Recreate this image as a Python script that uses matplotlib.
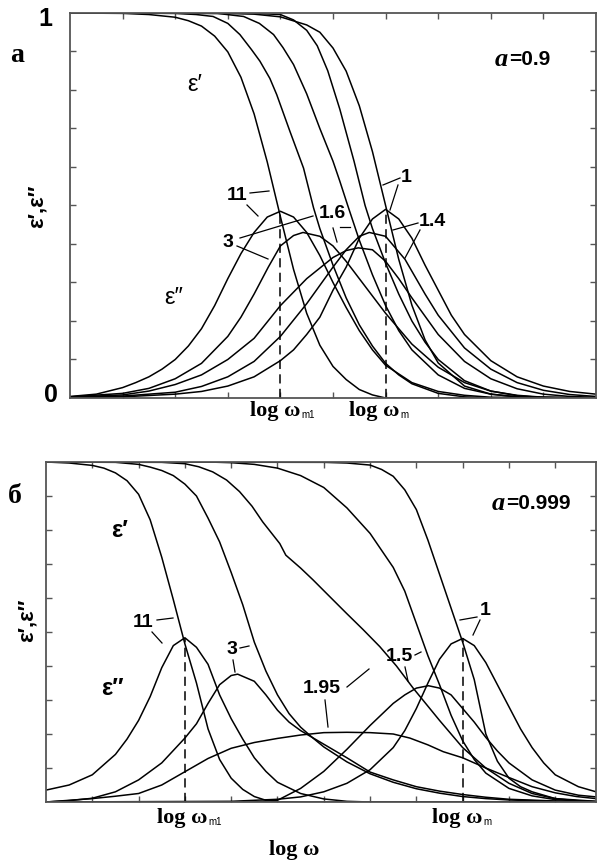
import matplotlib.pyplot as plt

# ---------------- panel a (a = 0.9) ----------------
# eps' curves
a_e11_x = [0, 1, 1.5, 2, 2.25, 2.5, 2.75, 3, 3.25, 3.5, 3.75, 4, 4.25, 4.5, 4.75, 5, 5.25, 5.5, 5.75, 6, 10]
a_e11_y = [1, 0.999, 0.996, 0.989, 0.98, 0.966, 0.94, 0.899, 0.833, 0.738, 0.613, 0.471, 0.334, 0.22, 0.137,
           0.082, 0.048, 0.022, 0.008, 0, 0]
a_e3_x = [0, 2, 2.4, 2.72, 3, 3.23, 3.45, 3.61, 3.8, 3.93, 4.18, 4.44, 4.63, 4.75, 5, 5.25, 5.5, 5.75, 6, 6.25,
          6.5, 7, 7.5, 8, 10]
a_e3_y = [1, 0.999, 0.996, 0.991, 0.973, 0.944, 0.905, 0.875, 0.83, 0.788, 0.693, 0.597, 0.494, 0.44, 0.345,
          0.26, 0.19, 0.135, 0.09, 0.06, 0.037, 0.012, 0.003, 0, 0]
a_e16_x = [0, 2.8, 3.3, 3.6, 3.87, 4.05, 4.25, 4.5, 4.75, 5, 5.13, 5.28, 5.5, 5.75, 6, 6.25, 6.5, 7, 7.5, 8,
           8.5, 10]
a_e16_y = [1, 0.999, 0.991, 0.973, 0.944, 0.91, 0.866, 0.79, 0.7, 0.615, 0.563, 0.5, 0.41, 0.32, 0.24, 0.175,
           0.125, 0.06, 0.025, 0.01, 0.003, 0]
a_e14_x = [0, 3.5, 4.0, 4.25, 4.5, 4.7, 4.9, 5.13, 5.4, 5.61, 5.75, 6, 6.25, 6.5, 6.75, 7, 7.5, 8, 8.5, 9, 10]
a_e14_y = [1, 0.999, 0.996, 0.982, 0.955, 0.915, 0.85, 0.75, 0.615, 0.5, 0.44, 0.35, 0.27, 0.2, 0.145, 0.1,
           0.045, 0.018, 0.006, 0.001, 0]
a_e1_x = [0, 3, 3.5, 4, 4.5, 4.75, 5, 5.25, 5.5, 5.75, 6, 6.25, 6.5, 6.75, 7, 7.5, 8, 8.5, 9, 10]
a_e1_y = [1, 0.999, 0.997, 0.99, 0.969, 0.95, 0.909, 0.849, 0.759, 0.64, 0.5, 0.36, 0.241, 0.151, 0.091, 0.031,
          0.01, 0.003, 0.001, 0]
# eps'' curves
a_d11_x = [0, 0.5, 1, 1.25, 1.5, 1.75, 2, 2.25, 2.5, 2.75, 3, 3.25, 3.5, 3.75, 4, 4.25, 4.5, 4.75, 5, 5.25,
           5.5, 5.75, 6, 6.5, 7, 7.5, 8, 10]
a_d11_y = [0.004, 0.01, 0.027, 0.04, 0.055, 0.075, 0.1, 0.135, 0.18, 0.24, 0.31, 0.375, 0.43, 0.47, 0.485,
           0.47, 0.43, 0.37, 0.3, 0.235, 0.175, 0.125, 0.085, 0.04, 0.017, 0.007, 0.002, 0]
a_d3_x = [0, 1, 1.5, 2, 2.5, 3, 3.25, 3.5, 3.77, 4, 4.25, 4.43, 4.75, 5, 5.25, 5.5, 5.75, 6, 6.5, 7, 7.5, 8,
          8.5, 9, 10]
a_d3_y = [0.003, 0.012, 0.025, 0.05, 0.09, 0.16, 0.21, 0.27, 0.34, 0.395, 0.422, 0.43, 0.42, 0.395, 0.355, 0.31,
          0.265, 0.22, 0.14, 0.08, 0.04, 0.018, 0.007, 0.002, 0]
a_d16_x = [0, 1, 1.5, 2, 2.5, 3, 3.5, 4, 4.5, 5, 5.25, 5.48, 5.75, 6, 6.25, 6.5, 7, 7.5, 8, 8.5, 9, 9.5, 10]
a_d16_y = [0.002, 0.008, 0.018, 0.035, 0.06, 0.1, 0.155, 0.24, 0.31, 0.365, 0.383, 0.39, 0.385, 0.355, 0.31,
           0.26, 0.165, 0.095, 0.05, 0.024, 0.01, 0.004, 0.002]
a_d14_x = [0, 1, 2, 2.5, 3, 3.5, 4, 4.5, 5, 5.25, 5.5, 5.69, 6, 6.37, 6.75, 7, 7.5, 8, 8.5, 9, 9.5, 10]
a_d14_y = [0.002, 0.005, 0.015, 0.03, 0.055, 0.095, 0.16, 0.245, 0.34, 0.385, 0.42, 0.43, 0.42, 0.36, 0.27,
           0.215, 0.13, 0.075, 0.04, 0.02, 0.009, 0.004]
a_d1_x = [0, 1, 2, 2.5, 3, 3.5, 4, 4.25, 4.5, 4.75, 5, 5.25, 5.5, 5.75, 6, 6.25, 6.5, 6.75, 7, 7.25, 7.5, 8,
          8.5, 9, 9.5, 10]
a_d1_y = [0.001, 0.003, 0.01, 0.017, 0.031, 0.055, 0.097, 0.125, 0.165, 0.21, 0.28, 0.34, 0.415, 0.465, 0.49,
          0.465, 0.415, 0.345, 0.28, 0.215, 0.165, 0.097, 0.055, 0.031, 0.017, 0.01]

# ---------------- panel b (a = 0.999) ----------------
b_e11_x = [0, 0.5, 1, 1.25, 1.5, 1.75, 2, 2.25, 2.5, 2.75, 3, 3.25, 3.5, 3.75, 4, 4.25, 4.5, 4.75, 5, 11.88]
b_e11_y = [1, 0.997, 0.99, 0.982, 0.968, 0.945, 0.905, 0.83, 0.72, 0.595, 0.465, 0.35, 0.215, 0.125, 0.07,
           0.037, 0.016, 0.005, 0, 0]
b_e3_x = [0, 1.5, 2, 2.25, 2.5, 2.75, 3, 3.25, 3.5, 3.75, 4, 4.25, 4.5, 4.75, 5, 5.25, 5.5, 5.75, 6, 6.5, 7,
          7.5, 8, 8.5, 9, 9.5, 10, 11, 11.88]
b_e3_y = [1, 0.999, 0.993, 0.985, 0.975, 0.96, 0.935, 0.9, 0.835, 0.765, 0.675, 0.58, 0.47, 0.385, 0.315, 0.26,
          0.22, 0.19, 0.162, 0.118, 0.083, 0.058, 0.039, 0.026, 0.016, 0.01, 0.006, 0.002, 0]
b_e195_x = [0, 2.5, 3, 3.3, 3.6, 3.9, 4.18, 4.45, 4.68, 5.05, 5.18, 5.5, 5.77, 6.1, 6.49, 6.85, 7.21, 7.57,
            7.93, 8.5, 9, 9.5, 10, 10.5, 11, 11.88]
b_e195_y = [1, 0.999, 0.995, 0.986, 0.971, 0.947, 0.913, 0.87, 0.824, 0.76, 0.726, 0.688, 0.653, 0.608, 0.555,
            0.507, 0.457, 0.4, 0.335, 0.24, 0.16, 0.1, 0.055, 0.025, 0.01, 0.002]
b_e15_x = [0, 3.5, 4, 4.5, 5, 5.5, 6, 6.5, 7, 7.5, 7.75, 8, 8.25, 8.5, 8.75, 9, 9.25, 9.5, 10, 10.5, 11, 11.88]
b_e15_y = [1, 1, 0.998, 0.993, 0.982, 0.96, 0.925, 0.865, 0.79, 0.69, 0.62, 0.525, 0.43, 0.345, 0.255, 0.18,
           0.125, 0.085, 0.04, 0.018, 0.007, 0.001]
b_e1_x = [0, 6, 6.5, 7, 7.25, 7.5, 7.75, 8, 8.25, 8.5, 8.75, 9, 9.25, 9.5, 9.75, 10, 10.25, 10.5, 11, 11.5,
          11.88]
b_e1_y = [1, 0.999, 0.997, 0.991, 0.978, 0.958, 0.918, 0.86, 0.77, 0.67, 0.57, 0.47, 0.36, 0.2, 0.12, 0.07,
          0.045, 0.03, 0.01, 0.003, 0.001]
b_d11_x = [0, 0.5, 1, 1.5, 1.75, 2, 2.25, 2.5, 2.75, 3, 3.25, 3.5, 3.75, 4, 4.25, 4.5, 4.75, 5, 5.5, 6, 6.5,
           7, 11.88]
b_d11_y = [0.035, 0.05, 0.08, 0.14, 0.185, 0.24, 0.31, 0.395, 0.46, 0.483, 0.455, 0.405, 0.315, 0.245, 0.185,
           0.13, 0.09, 0.058, 0.025, 0.009, 0.002, 0, 0]
b_d3_x = [0, 0.5, 1, 1.5, 2, 2.5, 3, 3.25, 3.5, 3.75, 4, 4.14, 4.5, 4.75, 5, 5.25, 5.5, 5.75, 6, 6.5, 7, 7.5,
          8, 8.5, 9, 9.5, 10, 11, 11.88]
b_d3_y = [0, 0.004, 0.011, 0.03, 0.065, 0.115, 0.188, 0.23, 0.29, 0.345, 0.372, 0.376, 0.355, 0.315, 0.27,
          0.235, 0.21, 0.19, 0.17, 0.13, 0.088, 0.065, 0.045, 0.032, 0.022, 0.014, 0.008, 0.003, 0.001]
b_d195_x = [0, 1, 1.5, 2, 2.5, 3, 3.5, 4, 4.5, 5, 5.5, 6, 6.5, 7, 7.5, 7.86, 8.25, 8.58, 9, 9.5, 10, 10.5, 11,
            11.46, 11.88]
b_d195_y = [0, 0.01, 0.017, 0.025, 0.05, 0.089, 0.128, 0.158, 0.175, 0.187, 0.197, 0.204, 0.205, 0.204, 0.2,
            0.188, 0.168, 0.148, 0.13, 0.1, 0.072, 0.045, 0.027, 0.016, 0.01]
b_d15_x = [0, 4.5, 5, 5.5, 5.7, 6, 6.5, 7, 7.5, 7.75, 8, 8.26, 8.5, 8.75, 9, 9.25, 9.5, 9.75, 10, 10.5, 11,
           11.5, 11.88]
b_d15_y = [0, 0, 0.005, 0.04, 0.06, 0.09, 0.155, 0.225, 0.29, 0.315, 0.335, 0.342, 0.335, 0.315, 0.275, 0.235,
           0.19, 0.15, 0.115, 0.065, 0.035, 0.02, 0.015]
b_d1_x = [0, 4, 5, 5.5, 6, 6.5, 7, 7.5, 7.75, 8, 8.25, 8.5, 8.75, 9, 9.25, 9.5, 9.75, 10, 10.25, 10.5, 10.75,
          11, 11.5, 11.88]
b_d1_y = [0, 0.002, 0.008, 0.015, 0.03, 0.055, 0.095, 0.16, 0.21, 0.275, 0.35, 0.42, 0.465, 0.481, 0.46, 0.41,
          0.345, 0.28, 0.215, 0.16, 0.115, 0.08, 0.045, 0.03]

panel_a = [(a_e11_x, a_e11_y), (a_e3_x, a_e3_y), (a_e16_x, a_e16_y), (a_e14_x, a_e14_y), (a_e1_x, a_e1_y),
           (a_d11_x, a_d11_y), (a_d3_x, a_d3_y), (a_d16_x, a_d16_y), (a_d14_x, a_d14_y), (a_d1_x, a_d1_y)]
panel_b = [(b_e11_x, b_e11_y), (b_e3_x, b_e3_y), (b_e195_x, b_e195_y), (b_e15_x, b_e15_y), (b_e1_x, b_e1_y),
           (b_d11_x, b_d11_y), (b_d3_x, b_d3_y), (b_d195_x, b_d195_y), (b_d15_x, b_d15_y), (b_d1_x, b_d1_y)]

# dashed markers: (log w_m1, peak), (log w_m, peak)
a_marks = [(4, 0.485), (6, 0.49)]
b_marks = [(3, 0.483), (9, 0.481)]

W, H = 597, 863
fig = plt.figure(figsize=(W / 100, H / 100), dpi=100)
ax1 = fig.add_axes([70 / W, 1 - 398 / H, 526 / W, 385 / H])
ax2 = fig.add_axes([46 / W, 1 - 802 / H, 550 / W, 340 / H])

sans = 'Liberation Sans'
serif = 'Liberation Serif'

for ax, curves, marks, xmax, nt in [(ax1, panel_a, a_marks, 10, 9), (ax2, panel_b, b_marks, 11.88, 11)]:
    for cx, cy in curves:
        ax.plot(cx, cy, color='black', lw=1.1, solid_joinstyle='round')
    for mx, my in marks:
        ax.plot([mx, mx], [0, my], color='black', lw=1.1, dashes=(6, 3.5))
    ax.set_xlim(0, xmax)
    ax.set_ylim(0, 1)
    ax.set_xticks(range(1, nt + 1))
    ax.set_yticks([i / 10 for i in range(1, 10)])
    ax.tick_params(direction='in', length=4, width=1, color='#555', top=True, right=True,
                   labelbottom=False, labelleft=False)
    for s in ax.spines.values():
        s.set_color('#555')
        s.set_linewidth(1.3)

renderer = fig.canvas.get_renderer()

def t(x, y, s, **kw):
    return fig.text(x / W, 1 - y / H, s, ha=kw.pop('ha', 'center'), va=kw.pop('va', 'center'), **kw)

def after(txt, s, dy, **kw):
    # put a piece of text right after another one (subscripts, "=0.9")
    bb = txt.get_window_extent(renderer)
    x1 = bb.x1 / W
    y0 = txt.get_position()[1]
    return fig.text(x1 + 1 / W, y0 - dy / H, s, ha='left', va='center', **kw)

def lead(x0, y0, x1, y1):
    fig.add_artist(plt.Line2D([x0 / W, x1 / W], [1 - y0 / H, 1 - y1 / H], color='black', lw=0.9))

# panel a texts
t(45, 19, '1', fontsize=18, fontweight='bold', family=sans)
t(51, 395, '0', fontsize=18, fontweight='bold', family=sans)
t(17, 56, 'а', fontsize=20, fontweight='bold', family=serif)
t(37, 206, 'ε′,ε″', fontsize=16, fontweight='bold', family=sans, rotation=90)
t(195, 85, 'ε′', fontsize=17, family=sans)
t(174, 298, 'ε″', fontsize=17, family=sans)
ta = t(495, 59, 'a', fontsize=19, fontweight='bold', style='italic', family=serif, ha='left')
after(ta, '=0.9', 0, fontsize=15, fontweight='bold', family=sans)
l1 = t(250, 411, 'log ω', fontsize=16, fontweight='bold', family=serif, ha='left')
after(l1, 'm1', 4, fontsize=7, family=sans)
l2 = t(349, 411, 'log ω', fontsize=16, fontweight='bold', family=serif, ha='left')
after(l2, 'm', 4, fontsize=7, family=sans)

t(237, 196, '11', fontsize=14, fontweight='bold', family=sans)
lead(250, 193, 269, 191)
lead(247, 205, 258, 216)
t(228, 242, '3', fontsize=14, fontweight='bold', family=sans)
lead(240, 238, 313, 216)
lead(237, 246, 268, 259)
t(332, 214, '1.6', fontsize=14, fontweight='bold', family=sans)
lead(340, 227, 350, 227)
lead(333, 228, 337, 242)
t(432, 221, '1.4', fontsize=14, fontweight='bold', family=sans)
lead(418, 223, 393, 230)
lead(420, 230, 405, 258)
t(406, 177, '1', fontsize=14, fontweight='bold', family=sans)
lead(400, 178, 383, 185)
lead(398, 185, 390, 210)

# panel b texts
t(15, 496, 'б', fontsize=20, fontweight='bold', family=serif)
t(27, 620, 'ε′,ε″', fontsize=16, fontweight='bold', family=sans, rotation=90)
t(120, 530, 'ε′', fontsize=17, fontweight='bold', family=sans)
t(112, 688, 'ε″', fontsize=17, fontweight='bold', family=sans)
tb = t(492, 503, 'a', fontsize=19, fontweight='bold', style='italic', family=serif, ha='left')
after(tb, '=0.999', 0, fontsize=15, fontweight='bold', family=sans)
l3 = t(157, 818, 'log ω', fontsize=16, fontweight='bold', family=serif, ha='left')
after(l3, 'm1', 4, fontsize=7, family=sans)
l4 = t(432, 818, 'log ω', fontsize=16, fontweight='bold', family=serif, ha='left')
after(l4, 'm', 4, fontsize=7, family=sans)
t(294, 850, 'log ω', fontsize=16, fontweight='bold', family=serif)

t(143, 622, '11', fontsize=14, fontweight='bold', family=sans)
lead(157, 620, 173, 618)
lead(152, 632, 162, 643)
t(232, 650, '3', fontsize=14, fontweight='bold', family=sans)
lead(240, 648, 249, 646)
lead(233, 660, 235, 672)
t(322, 688, '1.95', fontsize=14, fontweight='bold', family=sans)
lead(347, 687, 369, 669)
lead(325, 700, 328, 727)
t(399, 656, '1.5', fontsize=14, fontweight='bold', family=sans)
lead(415, 655, 421, 652)
lead(405, 667, 408, 681)
t(485, 610, '1', fontsize=14, fontweight='bold', family=sans)
lead(477, 617, 460, 620)
lead(480, 620, 473, 635)

fig.savefig('out.png', dpi=100)
